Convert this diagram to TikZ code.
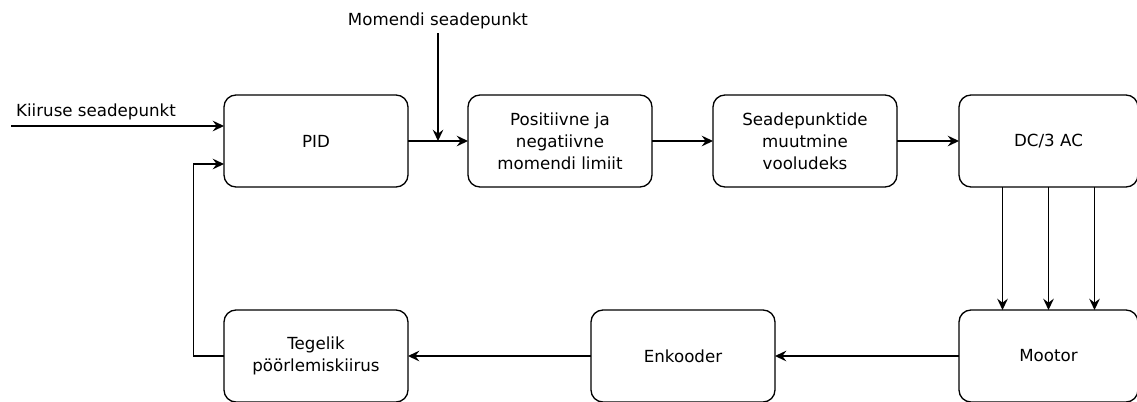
\documentclass[tikz,border=0pt]{standalone}
\usepackage{fontspec}
\setmainfont{DejaVu Sans}
\usetikzlibrary{positioning, arrows.meta}
\tikzstyle{block} = [rectangle, rounded corners=9pt, minimum width=138pt, minimum height=69pt, outer sep=0pt, align=center, draw=black, line width=1pt, fill=white, font=\fontsize{12.5}{16.5}\selectfont]
\tikzstyle{label} = [font=\fontsize{12.5}{16.5}\selectfont, inner sep=0pt]
\tikzstyle{arrow} = [-{Stealth[length=8.5pt, width=8pt, inset=3pt]}, line width=1pt]

\begin{document}
\begin{tikzpicture}[x=0.75pt, y=-0.75pt]
	\useasboundingbox (0,0) rectangle (1137,401);
	\node (pid) [block] at (316,141) {PID};
	\node (limiit) [block, right=45pt of pid] {Positiivne ja\\negatiivne\\momendi limiit};
	\node (seade) [block, right=45.75pt of limiit] {Seadepunktide\\muutmine\\vooludeks};
	\node (dcac) [block, right=46.5pt of seade, minimum width=134.25pt] {DC/3 AC};
	\node (mootor) [block, below=92.25pt of dcac, minimum width=134.25pt] {Mootor};
	\node (enkooder) [block, left=138pt of mootor] {Enkooder};
	\node (tegelik) [block, left=137.25pt of enkooder] {Tegelik\\pöörlemiskiirus};
	
	\node (kiiruse) [label] at (96,112) {Kiiruse seadepunkt};
	\coordinate (kiirusein) at (11,126);
	\node (momendi) [label] at (438,21) {Momendi seadepunkt};
	\coordinate (momendiin) at (438,33);
	
	\draw [arrow](kiirusein) -- (kiirusein -| pid.west);
	\draw [arrow](momendiin) -- (momendiin |- pid.east);
	\draw [arrow](pid) -- (limiit);
	\draw [arrow](limiit) -- (seade);
	\draw [arrow](seade) -- (dcac);
	\foreach \dx in {-34.5,0,34.5}
		\draw [arrow]([xshift=\dx pt]dcac.south) -- ([xshift=\dx pt]mootor.north);
	\draw [arrow](mootor) -- (enkooder);
	\draw [arrow](enkooder) -- (tegelik);
	\draw [arrow](tegelik.west) -- ++(-23pt,0) |- ([yshift=-17.25pt]pid.west);
\end{tikzpicture}
\end{document}
